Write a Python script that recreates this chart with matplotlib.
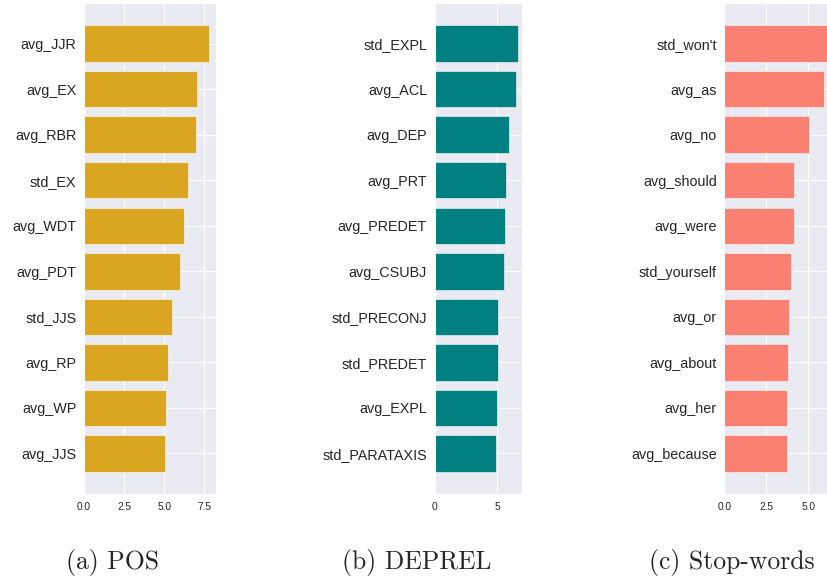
import matplotlib
matplotlib.use("Agg")
import matplotlib.pyplot as plt
import seaborn as sns

sns.set_style("darkgrid")
plt.rcParams['font.family'] = ['Liberation Sans', 'DejaVu Sans']

# POS
pos_labels = ["avg_JJR", "avg_EX", "avg_RBR", "std_EX", "avg_WDT",
              "avg_PDT", "std_JJS", "avg_RP", "avg_WP", "avg_JJS"]
pos_values = [7.83, 7.02, 7.0, 6.52, 6.21, 6.0, 5.46, 5.27, 5.14, 5.06]

# DEPREL
dep_labels = ["std_EXPL", "avg_ACL", "avg_DEP", "avg_PRT", "avg_PREDET",
              "avg_CSUBJ", "std_PRECONJ", "std_PREDET", "avg_EXPL", "std_PARATAXIS"]
dep_values = [6.66, 6.5, 5.94, 5.72, 5.69, 5.59, 5.13, 5.12, 5.05, 4.94]

# Stop-words
sw_labels = ["std_won't", "avg_as", "avg_no", "avg_should", "avg_were",
             "std_yourself", "avg_or", "avg_about", "avg_her", "avg_because"]
sw_values = [6.4, 5.95, 5.04, 4.15, 4.14, 3.97, 3.85, 3.81, 3.76, 3.75]

panels = [
    (pos_labels, pos_values, "#DAA520", [0.1016, 0.1512, 0.1593, 0.8436], [0, 2.5, 5, 7.5], "(a) POS", 0.1366),
    (dep_labels, dep_values, "#008080", [0.5256, 0.1512, 0.1052, 0.8436], [0, 5], "(b) DEPREL", 0.504),
    (sw_labels, sw_values, "#FA8072", [0.8758, 0.1512, 0.1365, 0.8436], [0, 2.5, 5.0], "(c) Stop-words", 0.885),
]

fig = plt.figure(figsize=(8.27, 5.82), dpi=100)

for labels, values, color, rect, ticks, caption, cx in panels:
    ax = fig.add_axes(rect)
    ax.barh(range(len(values)), values, height=0.8, color=color,
            edgecolor="white", linewidth=0.4)
    ax.set_yticks(range(len(values)))
    ax.set_yticklabels(labels, fontsize=10.4)
    ax.invert_yaxis()
    ax.set_xticks(ticks)
    ax.tick_params(axis="x", labelsize=7.3, length=0, pad=5.8)
    ax.tick_params(axis="y", length=0, pad=5.5)
    fig.text(cx, 0.0223, caption, ha="center", va="baseline",
             fontsize=18.5, family="cmr10")

fig.savefig("out.png", dpi=100)
